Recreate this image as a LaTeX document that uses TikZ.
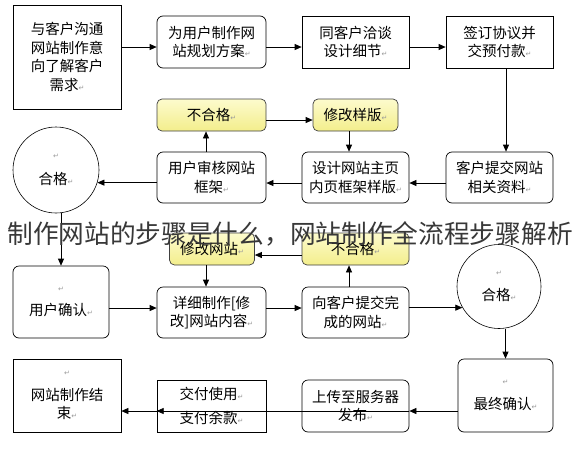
\documentclass[tikz,border=0pt]{standalone}
\usepackage{fontspec}
\newfontfamily\cjk{Noto Sans CJK SC}
\newfontfamily\symfont{DejaVu Sans}
\usetikzlibrary{calc,arrows.meta}
\definecolor{noteTop}{RGB}{253,251,205}
\definecolor{noteBot}{RGB}{243,238,140}
% paragraph mark left in the boxes
\newcommand\pmk{{\symfont\fontsize{7}{7}\selectfont\color{black!40}↵}}

\begin{document}
\begin{tikzpicture}[x=1pt,y=-1pt,
  every node/.style={font=\cjk\fontsize{14.5}{18.5}\selectfont,align=center,inner sep=2pt},
  plainbox/.style={draw,line width=0.7pt},
  softbox/.style={draw,line width=0.7pt,rounded corners=6pt},
  notebox/.style={draw=black!75,line width=0.7pt,rounded corners=5pt,top color=noteTop,bottom color=noteBot},
  roundbox/.style={draw,circle,line width=0.6pt,inner sep=0pt},
  flow/.style={-{Triangle[length=7pt,width=6pt]},line width=0.7pt}]
  \useasboundingbox (0,0) rectangle (583,453);
  % first row
  \node[plainbox,minimum width=108,minimum height=104] (ask) at (67,57) {与客户沟通\\网站制作意\\向了解客户\\需求\pmk};
  \node[softbox,minimum width=109,minimum height=52] (plan) at (211.5,42) {为用户制作网\\站规划方案\pmk};
  \node[plainbox,minimum width=107,minimum height=52] (talk) at (355.5,42) {同客户洽谈\\设计细节\pmk};
  \node[plainbox,minimum width=107,minimum height=52] (sign) at (499.5,42) {签订协议并\\交预付款\pmk};
  % second row
  \node[notebox,minimum width=109,minimum height=32] (failA) at (211.5,115) {不合格\pmk};
  \node[notebox,minimum width=85,minimum height=32] (fixA) at (355.5,115) {修改样版\pmk};
  \node[roundbox,minimum size=86] (okA) at (56,170) {\pmk\\[8pt]合格\pmk};
  \node[softbox,minimum width=109,minimum height=51] (review) at (211.5,177.5) {用户审核网站\\框架\pmk};
  \node[softbox,minimum width=107,minimum height=51] (draft) at (355.5,177.5) {设计网站主页\\内页框架样版\pmk};
  \node[softbox,minimum width=107,minimum height=51] (data) at (499.5,177.5) {客户提交网站\\相关资料\pmk};
  % third row
  \node[notebox,minimum width=85,minimum height=32] (fixB) at (212,249) {修改网站\pmk};
  \node[notebox,minimum width=107,minimum height=32] (failB) at (355.5,249) {不合格\pmk};
  \node[softbox,minimum width=96,minimum height=72] (confirm) at (61,302) {\pmk\\[6pt]用户确认\pmk};
  \node[softbox,minimum width=109,minimum height=51] (build) at (211.5,312.5) {详细制作[修\\改]网站内容\pmk};
  \node[softbox,minimum width=107,minimum height=51] (deliver) at (355.5,312.5) {向客户提交完\\成的网站\pmk};
  \node[roundbox,minimum size=84] (okB) at (499,286.5) {\pmk\\[6pt]合格\pmk};
  % last row
  \node[softbox,minimum width=95,minimum height=73] (final) at (505.5,395.5) {\pmk\\[6pt]最终确认\pmk};
  \node[softbox,minimum width=107,minimum height=52] (upload) at (355.5,406) {上传至服务器\\发布\pmk};
  \node[plainbox,minimum width=109,minimum height=52] (pay) at (211.5,406) {交付使用\pmk\\[5pt]支付余款\pmk};
  \node[plainbox,minimum width=108,minimum height=73] (done) at (67,395.5) {\pmk\\[6pt]网站制作结\\束\pmk};

  \draw[flow] (ask.east |- 0,47) -- ($(plan.west)+(0,5)$);
  \foreach \a/\b in {plan/talk,talk/sign,failA/fixA,upload/pay}
    \draw[flow] ($(\a.east)+(0,5)$) -- ($(\b.west)+(0,5)$);
  \draw[flow] ($(sign.south)+(6.5,0)$) -- ($(data.north)+(6.5,0)$);
  \foreach \a/\b in {data/draft,draft/review}
    \draw[flow] ($(\a.west)+(0,5.5)$) -- ($(\b.east)+(0,5.5)$);
  \draw[flow] (review.west |- okA.-17) -- (okA.-17);
  \draw[flow] ($(review.north)+(-5.5,0)$) -- ($(failA.south)+(-5.5,0)$);
  \draw[flow] ($(fixA.south)+(-6.5,0)$) -- ($(draft.north)+(-6.5,0)$);
  \draw[flow] (okA.south -| confirm.north) -- (confirm.north);
  \draw[flow] ($(confirm.east)+(0,6)$) -- ($(build.west)+(0,-4.5)$);
  \draw[flow] ($(build.east)+(0,-4.5)$) -- ($(deliver.west)+(0,-4.5)$);
  \draw[flow] (deliver.east |- okB.210) -- (okB.210);
  \draw[flow] ($(deliver.north)+(-6.5,0)$) -- ($(failB.south)+(-6.5,0)$);
  \draw[flow] ($(failB.west)+(0,6)$) -- ($(fixB.east)+(0,6)$);
  \draw[flow] ($(fixB.south)+(-6,0)$) -- ($(build.north)+(-5.5,0)$);
  \draw[flow] (okB.south -| final.north) -- (final.north);
  \draw[flow] ($(final.west)+(0,15.5)$) -- ($(upload.east)+(0,5)$);
  \draw[flow] ($(pay.west)+(0,5)$) -- ($(done.east)+(0,15.5)$);

  \node[font=\cjk\fontsize{25.7}{26}\selectfont,text=black!78,inner sep=0pt] (title) at (290,234) {制作网站的步骤是什么，网站制作全流程步骤解析};
\end{tikzpicture}
\end{document}
